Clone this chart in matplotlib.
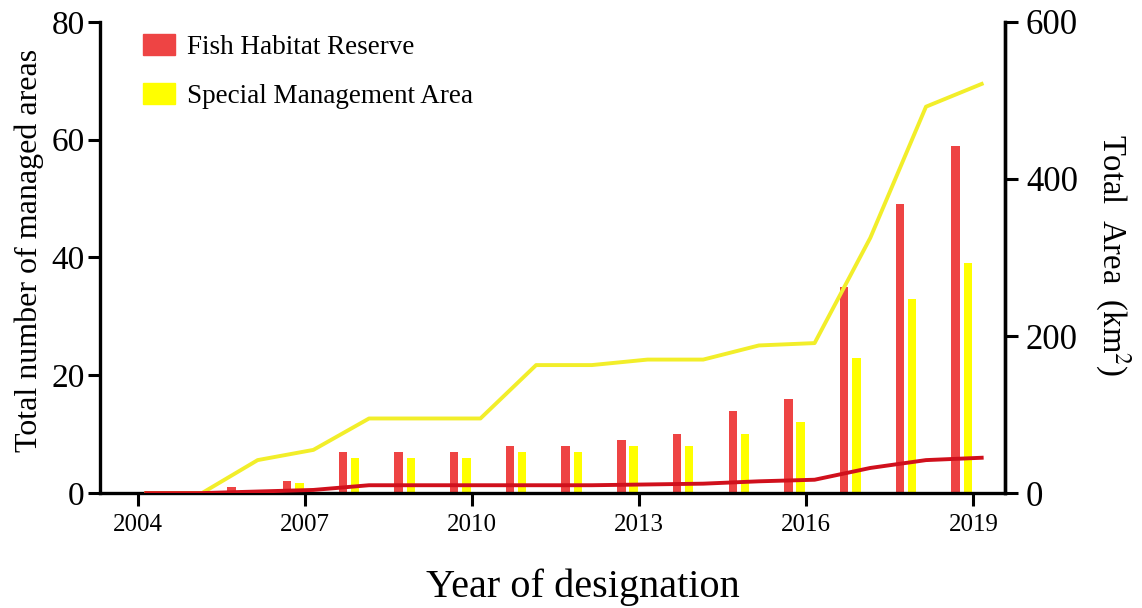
import numpy as np
import matplotlib
matplotlib.use("Agg")
import matplotlib.pyplot as plt
from matplotlib.patches import Patch

plt.rcParams["font.family"] = ["Liberation Serif", "DejaVu Serif"]
plt.rcParams["mathtext.fontset"] = "stix"

# bar data (number of managed areas, cumulative)
bar_years = np.arange(2006, 2020)
fish_count = [1, 2, 7, 7, 7, 8, 8, 9, 10, 14, 16, 35, 49, 59]
special_count = [0.5, 1.7, 6, 6, 6, 7, 7, 8, 8, 10, 12, 23, 33, 39]

# line data (total area, km2)
line_years = np.arange(2004, 2020)
fish_area = [0, 0, 2, 4, 10, 10, 10, 10, 10, 11, 12, 15, 17, 32, 42, 45]
special_area = [0, 0, 42, 55, 95, 95, 95, 163, 163, 170, 170, 188, 191, 325, 492, 521]

tick_years = [2004, 2007, 2010, 2013, 2016, 2019]

red_bar = "#EE4444"
yellow_bar = "#FFFF00"
red_line = "#D0101C"
yellow_line = "#F2EE2A"

fig = plt.figure(figsize=(11.42, 6.08), dpi=100)
ax = fig.add_axes([0.0876, 0.189, 0.7925, 0.775])

bw = 0.15
ax.bar(bar_years - 0.32, fish_count, width=bw, color=red_bar, zorder=2)
ax.bar(bar_years - 0.10, special_count, width=bw, color=yellow_bar, zorder=2)

ax.set_xlim(2003.32, 2019.57)
ax.set_ylim(0, 80)
ax.set_yticks([0, 20, 40, 60, 80])
ax.set_xticks(tick_years)
ax.tick_params(axis="y", labelsize=24, width=2.2, length=9, direction="out", pad=2)
ax.tick_params(axis="x", labelsize=18, width=2.2, length=9, direction="out", pad=6)
ax.spines["top"].set_visible(False)
for s in ["left", "bottom", "right"]:
    ax.spines[s].set_linewidth(2.4)

ax.set_ylabel("Total number of managed areas", fontsize=23)
ax.yaxis.set_label_coords(-0.062, 0.515)
ax.set_xlabel("Year of designation", fontsize=29)
ax.xaxis.set_label_coords(0.533, -0.16)

ax2 = ax.twinx()
ax2.plot(line_years + 0.15, special_area, color=yellow_line, lw=2.8, zorder=3)
ax2.plot(line_years + 0.15, fish_area, color=red_line, lw=2.8, zorder=4)
ax2.set_ylim(0, 600)
ax2.set_yticks([0, 200, 400, 600])
ax2.tick_params(axis="y", labelsize=25, width=2.2, length=9, direction="out", pad=6)
ax2.spines["top"].set_visible(False)
ax2.spines["right"].set_linewidth(2.4)
ax2.set_ylabel("Total  Area  (km$^2$)", fontsize=23.5, rotation=270)
ax2.yaxis.set_label_coords(1.14, 0.505)

handles = [Patch(color=red_bar, label="Fish Habitat Reserve"),
           Patch(color=yellow_bar, label="Special Management Area")]
ax.legend(handles=handles, loc="upper left", bbox_to_anchor=(0.02, 1.025),
          frameon=False, fontsize=19.5, handlelength=1.2, handleheight=0.8,
          labelspacing=0.85, handletextpad=0.45)

fig.savefig("out.png", dpi=100)
